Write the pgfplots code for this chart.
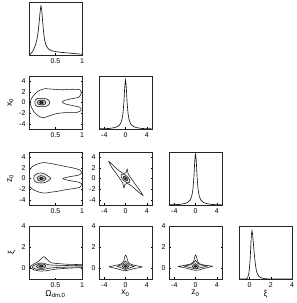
\documentclass[border=0pt]{standalone}
\usepackage{fontspec}
\setmainfont{Liberation Sans}
\usepackage{pgfplots}
\pgfplotsset{compat=1.18}
\pgfplotsset{
  cp/.style={scale only axis, width=53pt, height=53pt, anchor=south west,
    tick align=inside, major tick length=1.5pt,
    tick style={black, line width=0.3pt},
    axis line style={line width=0.45pt, black!85},
    tick label style={font=\fontsize{7}{8}\selectfont},
    label style={font=\fontsize{8.5}{9}\selectfont},
    /pgf/number format/assume math mode=true,
    xlabel style={yshift=4pt}, ylabel style={yshift=-1pt}},
  oneD/.style={cp, ytick=\empty, ymin=0},
  om/.style={xmin=0, xmax=1, xtick={0.5,1}, xticklabels={0.5,1}},
  xz/.style={xmin=-5, xmax=5, xtick={-4,0,4}, xticklabels={-4,0,4}},
  xzy/.style={ymin=-5, ymax=5, ytick={-4,-2,0,2,4}, yticklabels={-4,-2,0,2,4}},
  xiy/.style={ymin=-1, ymax=4, ytick={0,2,4}, yticklabels={0,2,4}},
  cl/.style={black!90, line width=0.55pt, smooth, tension=0.4, mark=none},
  c1/.style={cl, fill=gray!15},
  c2/.style={cl, fill=gray!50},
  c3/.style={cl, fill=black!85},
  m1/.style={black!90, line width=0.65pt, smooth, tension=0.3, mark=none},
}
\begin{document}
\begin{tikzpicture}
\useasboundingbox (0,0) rectangle (297pt,303pt);
% ---------- row 1 ----------
\begin{axis}[oneD, om, at={(29pt,248pt)}, ymax=1.08]
\addplot[m1] coordinates {(0.0,0) (0.03,0.02) (0.06,0.06) (0.09,0.12) (0.12,0.2) (0.15,0.32) (0.17,0.45) (0.19,0.65) (0.21,0.88) (0.225,1.0) (0.24,0.92) (0.26,0.65) (0.28,0.42) (0.30,0.28) (0.33,0.18) (0.37,0.12) (0.42,0.09) (0.5,0.07) (0.6,0.055) (0.7,0.045) (0.8,0.035) (0.9,0.025) (1.0,0.015)};
\end{axis}
% ---------- row 2 ----------
\begin{axis}[cp, om, xzy, at={(29pt,174pt)}, ylabel={x\textsubscript{0}}]
\addplot[cl] coordinates {(0.02,0) (0.05,0.8) (0.11,1.6) (0.19,2.25) (0.3,2.6) (0.46,2.5) (0.64,2.4) (0.8,2.5) (0.96,2.4) (0.985,1.75) (0.94,1.0) (0.8,0.7) (0.675,0.4) (0.63,0.1) (0.675,-0.25) (0.83,-0.6) (0.96,-0.9) (0.985,-1.5) (0.89,-1.9) (0.7,-1.9) (0.52,-2.1) (0.36,-2.6) (0.27,-2.9) (0.17,-2.5) (0.09,-1.7) (0.04,-0.75) (0.02,0)};
\addplot[c1] coordinates {(0.11,0) (0.12,0.5) (0.16,0.75) (0.25,0.8) (0.33,0.7) (0.38,0.35) (0.39,0) (0.38,-0.35) (0.33,-0.7) (0.25,-0.8) (0.16,-0.75) (0.12,-0.5) (0.11,0)};
\addplot[c2] coordinates {(0.16,0) (0.17,0.3) (0.21,0.42) (0.27,0.42) (0.305,0.3) (0.315,0) (0.305,-0.3) (0.27,-0.42) (0.21,-0.42) (0.17,-0.3) (0.16,0)};
\addplot[c3] coordinates {(0.2,0) (0.21,0.18) (0.235,0.22) (0.26,0.18) (0.27,0) (0.26,-0.18) (0.235,-0.22) (0.21,-0.18) (0.2,0)};
\end{axis}
\begin{axis}[oneD, xz, at={(99pt,174pt)}, ymax=1.08]
\addplot[m1] coordinates {(-5,0.003) (-4,0.006) (-3,0.012) (-2,0.03) (-1.5,0.05) (-1,0.1) (-0.7,0.18) (-0.5,0.3) (-0.3,0.55) (-0.15,0.85) (0,1) (0.15,0.85) (0.3,0.55) (0.5,0.3) (0.7,0.18) (1,0.1) (1.5,0.05) (2,0.03) (3,0.012) (4,0.006) (5,0.003)};
\end{axis}
% ---------- row 3 ----------
\begin{axis}[cp, om, xzy, at={(29pt,98pt)}, ylabel={z\textsubscript{0}}]
\addplot[cl] coordinates {(-0.02,1.3) (0.0,1.45) (0.06,2.2) (0.15,2.7) (0.27,3.0) (0.4,2.85) (0.55,2.55) (0.7,2.25) (0.85,1.95) (0.97,1.55) (0.99,0.95) (0.92,0.6) (0.8,0.4) (0.68,0.15) (0.64,0) (0.68,-0.2) (0.8,-0.45) (0.92,-0.65) (0.99,-1.0) (0.97,-1.6) (0.85,-1.9) (0.7,-2.1) (0.55,-2.4) (0.4,-2.6) (0.3,-2.75) (0.2,-2.6) (0.1,-2.2) (0.03,-1.7) (0.0,-1.3) (-0.02,-1.2)};
\addplot[c1] coordinates {(0.09,0) (0.1,0.5) (0.15,0.9) (0.22,1.05) (0.3,0.85) (0.37,0.4) (0.41,0) (0.37,-0.4) (0.3,-0.75) (0.22,-0.85) (0.15,-0.75) (0.1,-0.45) (0.09,0)};
\addplot[c2] coordinates {(0.16,0) (0.17,0.35) (0.22,0.55) (0.28,0.4) (0.32,0) (0.28,-0.4) (0.22,-0.5) (0.17,-0.35) (0.16,0)};
\addplot[c3] coordinates {(0.2,0) (0.22,0.2) (0.25,0.15) (0.27,0) (0.25,-0.15) (0.22,-0.2) (0.2,0)};
\end{axis}
\begin{axis}[cp, xz, xzy, at={(99pt,98pt)}]
\addplot[cl, tension=0.25] coordinates {(-3.2,3.3) (-2.2,2.35) (-1.2,1.45) (-0.4,0.95) (0.1,1.1) (0.3,1.8) (0.5,0.9) (0.9,0.25) (1.7,-0.9) (2.6,-2.1) (3.3,-3.2) (2.2,-2.35) (1.2,-1.45) (0.4,-0.95) (-0.1,-1.1) (-0.3,-1.8) (-0.5,-0.9) (-0.9,-0.25) (-1.7,0.9) (-2.6,2.1) (-3.2,3.3)};
\addplot[c1] coordinates {(0.78,-0.78) (0.80,-0.30) (0.354,0.354) (-0.30,0.80) (-0.78,0.78) (-0.80,0.30) (-0.354,-0.354) (0.30,-0.80) (0.78,-0.78)};
\addplot[c2] coordinates {(0.39,-0.39) (0.40,-0.15) (0.18,0.18) (-0.15,0.40) (-0.39,0.39) (-0.40,0.15) (-0.18,-0.18) (0.15,-0.40) (0.39,-0.39)};
\addplot[c3] coordinates {(0.16,-0.16) (0.16,-0.06) (0.07,0.07) (-0.06,0.16) (-0.16,0.16) (-0.16,0.06) (-0.07,-0.07) (0.06,-0.16) (0.16,-0.16)};
\end{axis}
\begin{axis}[oneD, xz, at={(169pt,98pt)}, ymax=1.04]
\addplot[m1] coordinates {(-5,0.003) (-4,0.006) (-3,0.012) (-2,0.03) (-1.5,0.05) (-1,0.1) (-0.7,0.18) (-0.5,0.3) (-0.3,0.55) (-0.15,0.85) (0,1) (0.15,0.85) (0.3,0.55) (0.5,0.3) (0.7,0.18) (1,0.1) (1.5,0.05) (2,0.03) (3,0.012) (4,0.006) (5,0.003)};
\end{axis}
% ---------- row 4 ----------
\begin{axis}[cp, om, xiy, at={(29pt,24pt)}, ylabel={ξ}, xlabel={Ω\textsubscript{dm,0}}]
\addplot[cl, tension=0.3] coordinates {(0.02,0.16) (0.08,0.38) (0.17,0.63) (0.24,0.95) (0.27,1.1) (0.3,1.05) (0.34,0.85) (0.42,0.53) (0.58,0.44) (0.77,0.38) (1.05,0.34) (1.05,0.09) (0.77,0.03) (0.52,-0.06) (0.33,-0.22) (0.21,-0.25) (0.11,-0.16) (0.04,0) (0.02,0.16)};
\addplot[c1, tension=0.3] coordinates {(0.06,0.15) (0.12,0.35) (0.2,0.5) (0.28,0.5) (0.36,0.35) (0.5,0.3) (0.75,0.27) (1.05,0.25) (1.05,0.15) (0.75,0.12) (0.5,0.08) (0.36,0.0) (0.26,-0.1) (0.15,-0.08) (0.08,0.02) (0.06,0.15)};
\addplot[c2] coordinates {(0.14,0.2) (0.18,0.38) (0.24,0.42) (0.3,0.35) (0.32,0.2) (0.29,0.05) (0.23,0.0) (0.17,0.05) (0.14,0.2)};
\addplot[c3] coordinates {(0.19,0.2) (0.22,0.3) (0.26,0.28) (0.27,0.18) (0.24,0.12) (0.2,0.13) (0.19,0.2)};
\end{axis}
\begin{axis}[cp, xz, xiy, at={(99pt,24pt)}, xlabel={x\textsubscript{0}}]
\addplot[cl, tension=0.25] coordinates {(-3.15,0.16) (-2,0.27) (-1,0.38) (-0.37,0.63) (-0.12,1.16) (0.05,1.26) (0.2,1.1) (0.37,0.8) (0.62,0.5) (1.5,0.31) (3.15,0.14) (1.5,-0.03) (0.56,-0.16) (0,-0.22) (-0.68,-0.16) (-1.6,-0.03) (-3.15,0.16)};
\addplot[c1, tension=0.3] coordinates {(-1.6,0.2) (-0.8,0.32) (-0.35,0.5) (0,0.7) (0.35,0.5) (0.8,0.32) (1.6,0.18) (0.8,0.05) (0.35,-0.05) (0,-0.1) (-0.35,-0.05) (-0.8,0.06) (-1.6,0.2)};
\addplot[c2] coordinates {(-0.6,0.2) (-0.3,0.35) (0,0.45) (0.3,0.35) (0.6,0.2) (0.3,0.05) (0,0.0) (-0.3,0.05) (-0.6,0.2)};
\addplot[c3] coordinates {(-0.25,0.2) (0,0.3) (0.25,0.2) (0,0.1) (-0.25,0.2)};
\end{axis}
\begin{axis}[cp, xz, xiy, at={(169pt,24pt)}, xlabel={z\textsubscript{0}}]
\addplot[cl, tension=0.25] coordinates {(-3.3,0.18) (-2,0.3) (-0.9,0.42) (-0.35,0.65) (-0.12,1.15) (0.05,1.27) (0.2,1.1) (0.35,0.75) (0.7,0.45) (1.6,0.32) (3.2,0.2) (1.6,0.0) (0.6,-0.15) (0,-0.18) (-0.7,-0.12) (-1.7,0.02) (-3.3,0.18)};
\addplot[c1, tension=0.3] coordinates {(-2.2,0.22) (-1,0.33) (-0.4,0.5) (0,0.75) (0.4,0.5) (1,0.33) (2.2,0.22) (1,0.08) (0.4,0.0) (0,-0.05) (-0.4,0.0) (-1,0.08) (-2.2,0.22)};
\addplot[c2] coordinates {(-0.6,0.2) (-0.3,0.35) (0,0.45) (0.3,0.35) (0.6,0.2) (0.3,0.05) (0,0.0) (-0.3,0.05) (-0.6,0.2)};
\addplot[c3] coordinates {(-0.25,0.2) (0,0.3) (0.25,0.2) (0,0.1) (-0.25,0.2)};
\end{axis}
\begin{axis}[oneD, at={(239pt,24pt)}, xmin=-1, xmax=4, xtick={0,2,4}, xticklabels={0,2,4}, ymax=1.1, xlabel={ξ}]
\addplot[m1] coordinates {(-1,0) (-0.4,0) (-0.25,0.01) (-0.15,0.05) (-0.05,0.15) (0.05,0.4) (0.12,0.72) (0.17,0.92) (0.22,1) (0.28,0.93) (0.35,0.75) (0.45,0.5) (0.55,0.3) (0.65,0.17) (0.75,0.1) (0.9,0.05) (1.1,0.025) (1.4,0.008) (1.8,0.002) (2.5,0) (4,0)};
\end{axis}
\end{tikzpicture}
\end{document}
